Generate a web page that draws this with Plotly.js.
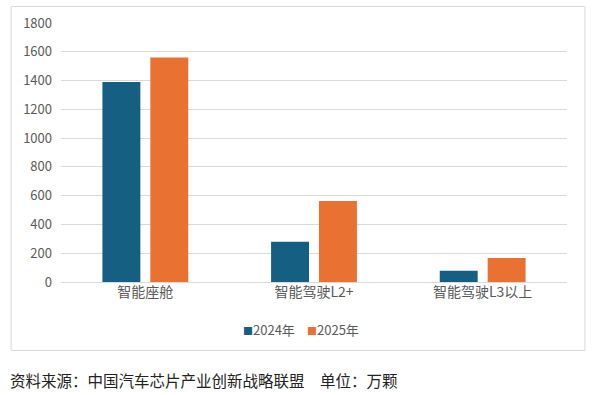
<!DOCTYPE html>
<html><head><meta charset="utf-8">
<script src="https://cdn.plot.ly/plotly-3.0.1.min.js"></script>
<style>html,body{margin:0;padding:0;background:#fff;}#c{width:593px;height:395px;}</style>
</head><body><div id="c"></div>
<script>
const categories = ["智能座舱", "智能驾驶L2+", "智能驾驶L3以上"];
const values2024 = [1390, 280, 78];
const values2025 = [1560, 563, 167];
const seriesNames = ["2024年", "2025年"];
const seriesColors = ["#156082", "#E97132"];
const yTicks = [0, 200, 400, 600, 800, 1000, 1200, 1400, 1600, 1800];

const L = 60.5, R = 567.5, T = 23, B = 282, W = 593, H = 395;
const pw = R - L, ph = B - T;
const px = x => (x - L) / pw;
const py = y => (B - y) / ph;
const font = "'Noto Sans CJK SC', 'Noto Sans', sans-serif";

const data = [
  {type: "bar", name: seriesNames[0], x: categories, y: values2024, marker: {color: seriesColors[0]}},
  {type: "bar", name: seriesNames[1], x: categories, y: values2025, marker: {color: seriesColors[1]}}
];
const legendX = [241, 305];
const legendAnn = seriesNames.map((n, i) => ({
  xref: "paper", yref: "paper", x: px(legendX[i]), y: py(329.5), xanchor: "left", yanchor: "middle",
  showarrow: false,
  text: '<span style="color:' + seriesColors[i] + ';font-size:10px">■</span>' + n,
  font: {size: 13, color: "#595959", family: font}
}));
const layout = {
  width: W, height: H,
  margin: {l: L, r: W - R, t: T, b: H - B, pad: 0},
  paper_bgcolor: "#fff", plot_bgcolor: "#fff",
  barmode: "group", bargap: 0.432, bargroupgap: 0.208,
  font: {family: font, color: "#595959", size: 13},
  xaxis: {showgrid: false, zeroline: false, showline: false, ticks: "",
          tickfont: {size: 14, color: "#595959"}, fixedrange: true},
  yaxis: {range: [0, 1800], tickvals: yTicks, ticktext: yTicks.map(String),
          showgrid: true, gridcolor: "#D9D9D9", gridwidth: 1, zeroline: true,
          zerolinecolor: "#D9D9D9", zerolinewidth: 1, showline: false, ticks: "",
          ticklabelstandoff: 8, tickfont: {size: 13, color: "#595959"}},
  showlegend: false,
  shapes: [{type: "rect", xref: "paper", yref: "paper",
            x0: px(10.5), x1: px(585.5), y0: py(350.5), y1: py(6.5),
            line: {color: "#D9D9D9", width: 1}, fillcolor: "rgba(0,0,0,0)", layer: "below"}],
  annotations: legendAnn.concat([{xref: "paper", yref: "paper", x: px(7), y: py(380), xanchor: "left", yanchor: "middle",
                 showarrow: false, text: "资料来源：中国汽车芯片产业创新战略联盟　单位：万颗",
                 font: {size: 15.5, color: "#222222", family: font}}])
};
Plotly.newPlot("c", data, layout, {displayModeBar: false, staticPlot: true});
</script></body></html>
